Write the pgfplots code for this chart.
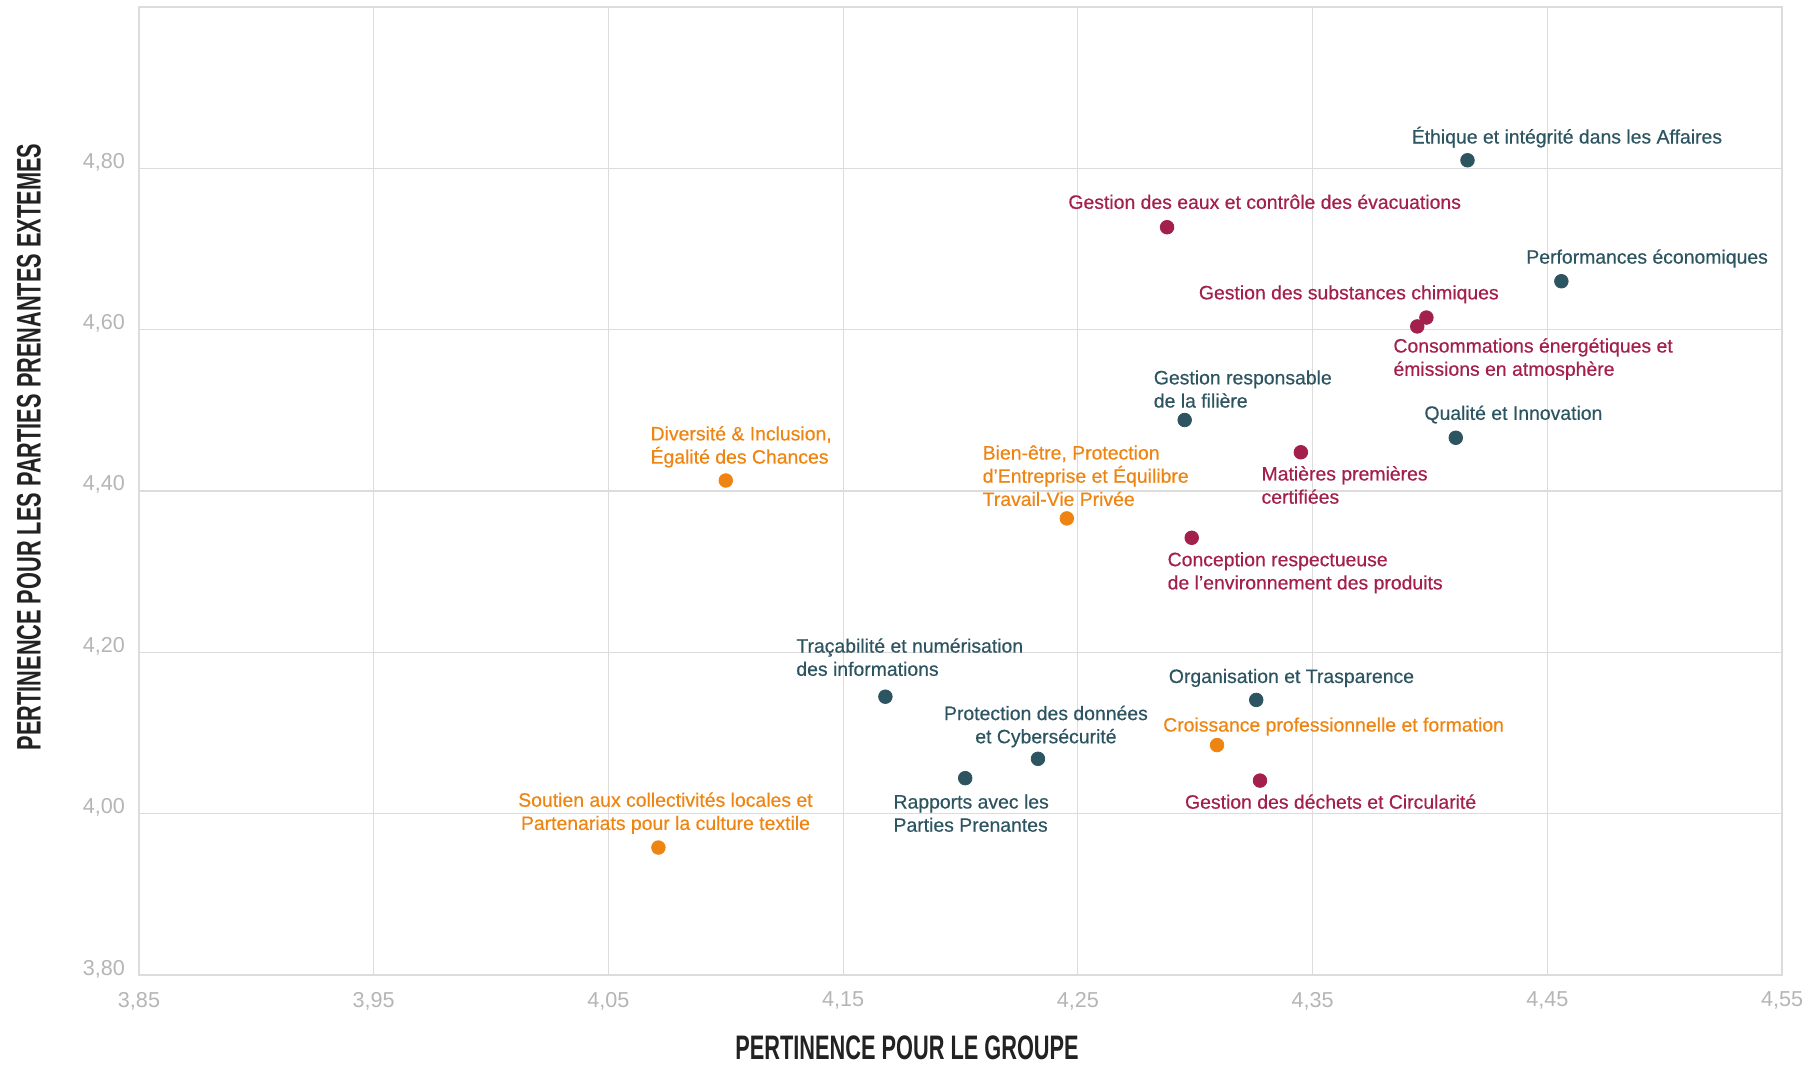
\documentclass[border=0pt]{standalone}
\usepackage{pgfplots}
\pgfplotsset{compat=1.18}
\usepackage{fontspec}
\setmainfont{Liberation Sans}
\newfontfamily\titlefont[FakeStretch=0.64]{Liberation Sans}
\newfontfamily\labfont[FakeBold=0.5]{Liberation Sans}

\definecolor{cteal}{HTML}{2D5561}
\definecolor{ccrim}{HTML}{A31F4C}
\definecolor{corange}{HTML}{EE8512}
\definecolor{tickgray}{HTML}{B5B5B5}
\definecolor{gridgray}{HTML}{DCDCDC}
\definecolor{titlegray}{HTML}{222222}

\tikzset{lab/.style={inner sep=0pt, font=\labfont\fontsize{9.7}{11.6}\selectfont, align=left, anchor=west}}

\begin{document}
\begin{tikzpicture}
\path[use as bounding box] (-69.5pt,-45pt) rectangle (837pt,487.5pt);
\begin{axis}[
    scale only axis,
    width=821.5pt, height=484pt,
    xmin=3.85, xmax=4.55, ymin=3.8, ymax=5.0,
    xtick={3.85,3.95,4.05,4.15,4.25,4.35,4.45,4.55},
    ytick={3.8,4.0,4.2,4.4,4.6,4.8},
    grid=major,
    major grid style={draw=gridgray, line width=0.6pt},
    axis line style={draw=gridgray, line width=0.6pt},
    major tick length=0pt,
    tick style={draw=none},
    ticklabel style={font=\fontsize{10.8}{12}\selectfont, text=tickgray},
    xticklabel style={yshift=-5pt},
    yticklabel style={anchor=base east, xshift=-3.5pt},
    /pgf/number format/fixed,
    /pgf/number format/fixed zerofill,
    /pgf/number format/precision=2,
    /pgf/number format/use comma,
    /pgf/number format/assume math mode=true,
]

% enjeux gouvernance / economie
\addplot[only marks, mark=*, mark size=3.4pt, color=cteal] coordinates {
    (4.416,4.810) (4.456,4.660) (4.2955,4.488) (4.411,4.466)
    (4.168,4.145) (4.326,4.141) (4.233,4.068) (4.202,4.044)
};
% enjeux environnement
\addplot[only marks, mark=*, mark size=3.4pt, color=ccrim] coordinates {
    (4.288,4.727) (4.3985,4.615) (4.3946,4.604) (4.345,4.448)
    (4.2985,4.342) (4.3276,4.041)
};
% enjeux sociaux
\addplot[only marks, mark=*, mark size=3.4pt, color=corange] coordinates {
    (4.100,4.413) (4.2453,4.366) (4.3093,4.085) (4.0713,3.958)
};

\node[lab, text=cteal] at (axis cs:4.3921,4.8387) {Éthique et intégrité dans les Affaires};
\node[lab, text=ccrim] at (axis cs:4.2458,4.7585) {Gestion des eaux et contrôle des évacuations};
\node[lab, text=cteal] at (axis cs:4.4409,4.6882) {Performances économiques};
\node[lab, text=ccrim] at (axis cs:4.3014,4.6438) {Gestion des substances chimiques};
\node[lab, text=ccrim] at (axis cs:4.3843,4.5636) {Consommations énergétiques et\\émissions en atmosphère};
\node[lab, text=cteal] at (axis cs:4.2822,4.5264) {Gestion responsable\\de la filière};
\node[lab, text=cteal] at (axis cs:4.3975,4.4948) {Qualité et Innovation};
\node[lab, text=corange] at (axis cs:4.0678,4.4547) {Diversité \& Inclusion,\\Égalité des Chances};
\node[lab, text=corange] at (axis cs:4.2093,4.4189) {Bien-être, Protection\\d’Entreprise et Équilibre\\Travail-Vie Privée};
\node[lab, text=ccrim] at (axis cs:4.3281,4.4074) {Matières premières\\certifiées};
\node[lab, text=ccrim] at (axis cs:4.2881,4.2986) {Conception respectueuse\\de l’environnement des produits};
\node[lab, text=cteal] at (axis cs:4.1299,4.1940) {Traçabilité et numérisation\\des informations};
\node[lab, text=cteal] at (axis cs:4.2886,4.1682) {Organisation et Trasparence};
\node[lab, text=cteal, anchor=center, align=center] at (axis cs:4.2364,4.1080) {Protection des données\\et Cybersécurité};
\node[lab, text=corange] at (axis cs:4.2862,4.1080) {Croissance professionnelle et formation};
\node[lab, text=cteal] at (axis cs:4.1713,4.0006) {Rapports avec les\\Parties Prenantes};
\node[lab, text=ccrim] at (axis cs:4.2955,4.0149) {Gestion des déchets et Circularité};
\node[lab, text=corange, anchor=center, align=center] at (axis cs:4.0743,4.0006) {Soutien aux collectivités locales et\\Partenariats pour la culture textile};
\end{axis}

\node[rotate=90, inner sep=0pt, text=titlegray, font=\titlefont\bfseries\fontsize{17}{20}\selectfont]
    at (-55pt,264pt) {PERTINENCE POUR LES PARTIES PRENANTES EXTEMES};
\node[inner sep=0pt, text=titlegray, font=\titlefont\bfseries\fontsize{17}{20}\selectfont]
    at (384pt,-36.5pt) {PERTINENCE POUR LE GROUPE};
\end{tikzpicture}
\end{document}
